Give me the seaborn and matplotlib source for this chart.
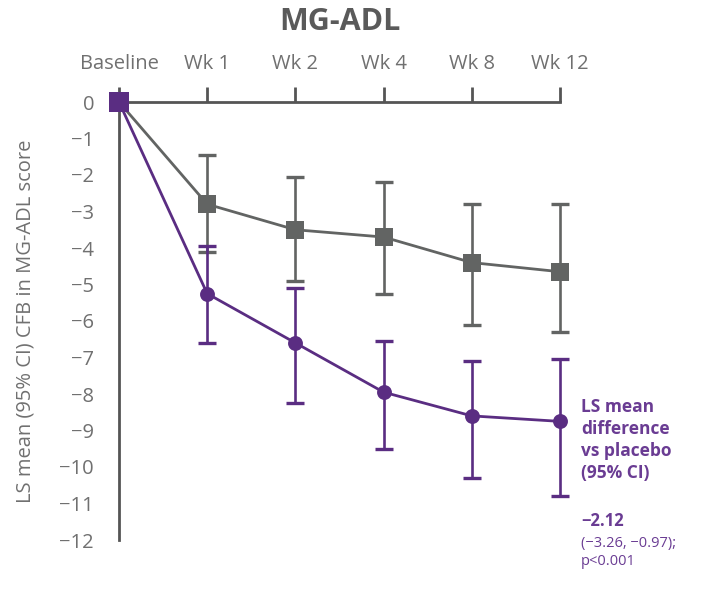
import matplotlib
matplotlib.use("Agg")
import matplotlib.pyplot as plt
import seaborn as sns
import pandas as pd
import numpy as np

# Visits and least-squares mean change from baseline (CFB) with 95% CI
visits = ["Baseline", "Wk 1", "Wk 2", "Wk 4", "Wk 8", "Wk 12"]

placebo_mean = [0.0, -2.8, -3.5, -3.7, -4.4, -4.65]
placebo_lo = [0.0, -4.1, -4.9, -5.25, -6.1, -6.3]
placebo_hi = [0.0, -1.45, -2.05, -2.2, -2.8, -2.8]

active_mean = [0.0, -5.25, -6.6, -7.95, -8.6, -8.75]
active_lo = [0.0, -6.6, -8.25, -9.5, -10.3, -10.8]
active_hi = [0.0, -3.95, -5.1, -6.55, -7.1, -7.05]

yticks = list(range(0, -13, -1))

GRAY = "#626463"
PURPLE = "#5a2d82"
AXIS = "#555555"
TEXT_GRAY = "#707070"
TEXT_PURPLE = "#6a3c93"

sns.set_style("white")
plt.rcParams["font.family"] = ["Open Sans", "DejaVu Sans"]

df = pd.DataFrame({
    "x": list(range(len(visits))) * 2,
    "mean": placebo_mean + active_mean,
    "group": ["Placebo"] * len(visits) + ["Active"] * len(visits),
})

fig = plt.figure(figsize=(7.15, 5.91), dpi=100)
ax = fig.add_axes([119 / 715, 1 - 540 / 591, (560 - 119) / 715, (540 - 102) / 591])

x = np.arange(len(visits))

# Placebo: grey squares
ax.errorbar(x[1:], placebo_mean[1:],
            yerr=[np.array(placebo_mean[1:]) - np.array(placebo_lo[1:]),
                  np.array(placebo_hi[1:]) - np.array(placebo_mean[1:])],
            fmt="none", ecolor=GRAY, elinewidth=1.9, capsize=6.5, capthick=2.4,
            zorder=2, clip_on=False)
sns.lineplot(data=df[df.group == "Placebo"], x="x", y="mean", ax=ax,
             color=GRAY, linewidth=2.0, marker="s", markersize=13.5,
             markeredgewidth=0, legend=False, zorder=3, clip_on=False)

# Active: purple circles
ax.errorbar(x[1:], active_mean[1:],
            yerr=[np.array(active_mean[1:]) - np.array(active_lo[1:]),
                  np.array(active_hi[1:]) - np.array(active_mean[1:])],
            fmt="none", ecolor=PURPLE, elinewidth=1.9, capsize=6.5, capthick=2.4,
            zorder=4, clip_on=False)
sns.lineplot(data=df[(df.group == "Active")], x="x", y="mean", ax=ax,
             color=PURPLE, linewidth=2.0, legend=False, zorder=5, clip_on=False)
sns.scatterplot(data=df[(df.group == "Active") & (df.x > 0)], x="x", y="mean",
                ax=ax, color=PURPLE, s=115, marker="o", linewidth=0,
                legend=False, zorder=6, clip_on=False)
# Shared baseline point
sns.scatterplot(data=df[(df.group == "Active") & (df.x == 0)], x="x", y="mean",
                ax=ax, color=PURPLE, s=200, marker="s", linewidth=0,
                legend=False, zorder=7, clip_on=False)

ax.set_xlim(0, 5)
ax.set_ylim(-12, 0)

for side in ["right", "bottom"]:
    ax.spines[side].set_visible(False)
for side in ["top", "left"]:
    ax.spines[side].set_visible(True)
    ax.spines[side].set_color(AXIS)
    ax.spines[side].set_linewidth(2.0)

ax.xaxis.set_ticks_position("top")
ax.xaxis.set_label_position("top")
ax.set_xticks(x)
ax.set_xticklabels(visits)
ax.set_yticks(yticks)
ax.set_yticklabels([str(v).replace("-", "\u2212") for v in yticks])
ax.tick_params(axis="both", direction="out", length=11, width=2.0,
               color=AXIS, labelcolor=TEXT_GRAY, labelsize=14.5)
ax.tick_params(axis="y", pad=7)
ax.tick_params(axis="x", pad=9)

ax.set_xlabel("")
ax.set_ylabel("LS mean (95% CI) CFB in MG-ADL score", color=TEXT_GRAY,
              fontsize=14.5, labelpad=17)

fig.text(340 / 715, 1 - 22 / 591, "MG-ADL", ha="center", va="center",
         fontsize=22, fontweight="bold", color="#5a5a5a")

# Treatment difference annotation
fig.text(581 / 715, 1 - 398 / 591, "LS mean\ndifference\nvs placebo\n(95% CI)",
         ha="left", va="top", fontsize=12.5, fontweight="bold",
         color=TEXT_PURPLE, linespacing=1.28)
fig.text(581 / 715, 1 - 512 / 591, "\u22122.12", ha="left", va="top",
         fontsize=12, fontweight="bold", color=TEXT_PURPLE)
fig.text(581 / 715, 1 - 536 / 591, "(\u22123.26, \u22120.97);\np<0.001",
         ha="left", va="top", fontsize=10.5, color=TEXT_PURPLE, linespacing=1.3)

fig.savefig("out.png", dpi=100, facecolor="white")
